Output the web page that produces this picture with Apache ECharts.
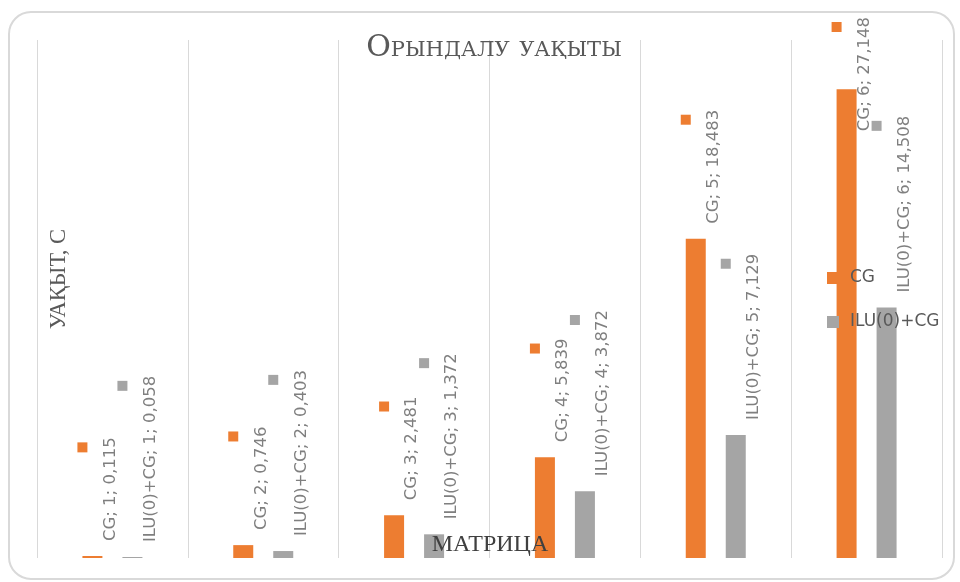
<!DOCTYPE html>
<html>
<head>
<meta charset="utf-8">
<script src="https://cdn.jsdelivr.net/npm/echarts@6/dist/echarts.min.js"></script>
<style>
  html, body { margin: 0; padding: 0; background: #fff; }
  #chart { width: 960px; height: 582px; }
</style>
</head>
<body>
<div id="chart"></div>
<script>
// matrix number -> solve time, s
const categories = ['1', '2', '3', '4', '5', '6']
const seriesNames = ['CG', 'ILU(0)+CG']
const cgTimes = [0.115, 0.746, 2.481, 5.839, 18.483, 27.148]
const iluTimes = [0.058, 0.403, 1.372, 3.872, 7.129, 14.508]
const seriesColors = ['#ed7d31', '#a5a5a5']

const mychart = echarts.init(document.getElementById('chart'))

// excel-style label: "series; category; value" with comma decimals, key square on top
function makeLabel (color) {
  return {
    show: true,
    position: 'top',
    distance: 15,
    rotate: 90,
    align: 'left',
    verticalAlign: 'middle',
    formatter: function (p) {
      let v = p.value.toFixed(3).replace('.', ',')
      return '{m|}{s|}\n{t|' + p.seriesName + '; ' + p.name + '; ' + v + '}'
    },
    rich: {
      m: { backgroundColor: color, width: 10, height: 10, lineHeight: 36, align: 'right' },
      s: { width: 5, align: 'right' },
      t: { fontFamily: 'DejaVu Sans', fontSize: 16.5, lineHeight: 20, color: '#7f7f7f' }
    }
  }
}

// keep labels inside the chart area, like excel does for the tallest bar
// (label is rotated, so its local x runs up the screen)
function keepInside (params) {
  let top = params.labelRect.y
  if (top < 17) {
    return { dx: top - 17 }
  }
  return {}
}

const allData = [cgTimes, iluTimes]
const myseries = seriesNames.map((name, i) => ({
  type: 'bar',
  name: name,
  data: allData[i],
  barWidth: 20,
  barGap: '100%',
  itemStyle: { color: seriesColors[i] },
  label: makeLabel(seriesColors[i]),
  labelLayout: keepInside
}))

const myoption = {
  animation: false,
  color: seriesColors,
  graphic: [{
    type: 'rect',
    shape: { x: 9, y: 12, width: 945, height: 567, r: 22 },
    style: { fill: 'none', stroke: '#d9d9d9', lineWidth: 2 },
    silent: true
  }],
  title: [{
    text: 'Орындалу уақыты',
    left: 489,
    textAlign: 'center',
    top: 28,
    textStyle: {
      fontFamily: 'DejaVu Serif',
      fontStyle: 'small-caps',
      fontWeight: 'normal',
      fontSize: 30,
      color: '#595959'
    }
  }, {
    text: 'МАТРИЦА',
    left: 485,
    textAlign: 'center',
    top: 528,
    textStyle: {
      fontFamily: 'Liberation Serif',
      fontWeight: 'normal',
      fontSize: 24,
      color: '#404040'
    }
  }],
  legend: {
    orient: 'vertical',
    left: 822,
    top: 263,
    itemWidth: 12,
    itemHeight: 12,
    itemGap: 24,
    icon: 'rect',
    data: seriesNames,
    textStyle: {
      fontFamily: 'DejaVu Sans',
      fontSize: 17,
      lineHeight: 20,
      color: '#595959',
      padding: [0, 0, 0, 6]
    }
  },
  grid: {
    left: 37,
    right: 18,
    top: 40,
    bottom: 24
  },
  xAxis: {
    type: 'category',
    data: categories,
    axisLine: { show: false },
    axisTick: { show: false },
    axisLabel: { show: false },
    splitLine: {
      show: true,
      lineStyle: { color: '#d9d9d9', width: 1 }
    }
  },
  yAxis: {
    type: 'value',
    min: 0,
    max: 30,
    name: 'УАҚЫТ, С',
    nameLocation: 'middle',
    nameGap: -34,
    nameRotate: 90,
    nameTextStyle: {
      fontFamily: 'Liberation Serif',
      fontSize: 22.5,
      color: '#595959',
      padding: [0, 0, 0, 40]
    },
    axisLine: { show: false },
    axisTick: { show: false },
    axisLabel: { show: false },
    splitLine: { show: false }
  },
  series: myseries
}

mychart.setOption(myoption)
</script>
</body>
</html>
